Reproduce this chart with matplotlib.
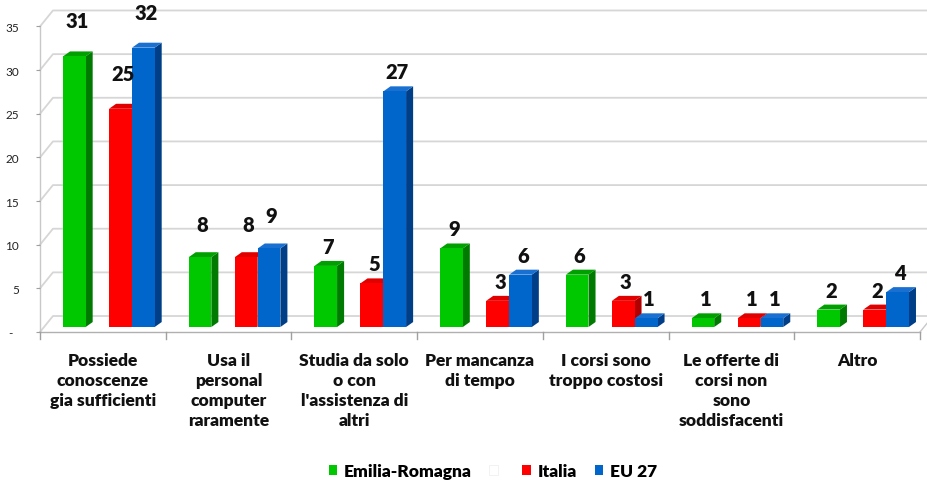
import matplotlib.pyplot as plt
from matplotlib.patches import Polygon, Rectangle
import numpy as np

categories = ["Possiede\nconoscenze\ngia sufficienti",
              "Usa il\npersonal\ncomputer\nraramente",
              "Studia da solo\no con\nl'assistenza di\naltri",
              "Per mancanza\ndi tempo",
              "I corsi sono\ntroppo costosi",
              "Le offerte di\ncorsi non\nsono\nsoddisfacenti",
              "Altro"]
series_names = ["Emilia-Romagna", "", "Italia", "EU 27"]
emilia = [31, 8, 7, 9, 6, 1, 2]
italia = [25, 8, 5, 3, 3, 1, 2]
eu27 = [32, 9, 27, 6, 1, 1, 4]
yticks = [0, 5, 10, 15, 20, 25, 30, 35]
ytick_labels = ["-  ", "5", "10", "15", "20", "25", "30", "35"]

plt.rcParams['font.family'] = ['Lato', 'DejaVu Sans']
BOLD = 'heavy'

fig = plt.figure(figsize=(9.28, 4.81), dpi=100)
ax = fig.add_axes([40/928, 1-333/481, 880/928, 35*8.73/481])
ax.set_xlim(0, 7)
ax.set_ylim(0, 35)

# fake 3d offsets (x in category units, y in value units)
DXW, DYW = 0.103, 1.83     # back wall
DXB, DYB = 0.056, 0.57     # bar depth
FLOOR = 0.57               # bar base above front edge
W = 0.18
grid_c = '#d6d6d6'
xend = 888/125.7

# back wall gridlines and left wall diagonals
for v in yticks:
    ax.plot([0, DXW, xend], [v, v+DYW, v+DYW], color=grid_c, lw=1.3,
            clip_on=False, zorder=1)
ax.plot([0, 0], [0, 35], color='#c8c8c8', lw=1.0, clip_on=False, zorder=1)
ax.plot([0, 7], [0, 0], color='#b0b0b0', lw=1.0, clip_on=False, zorder=1)
ax.plot([7, 7+DXW], [0, DYW], color='#c8c8c8', lw=1.0, clip_on=False, zorder=1)
for i in range(8):
    ax.plot([i, i], [0, -0.8], color='#a0a0a0', lw=1.0, clip_on=False)

# bars: side face, top face, then front face, left to right
colors = [('#00c800', '#00a000', '#007a00'),
          None,
          ('#ff0000', '#e00000', '#b00000'),
          ('#0066cc', '#1a70d0', '#003f87')]
data = [emilia, None, italia, eu27]
pads = [26, 23, 10, 10, 10, 10, 10]
for i in range(len(categories)):
    for k in range(4):
        if data[k] is None:
            continue
        v = data[k][i]
        x0 = i + 0.183 + k*0.183
        b = FLOOR
        t = FLOOR + v
        front, top, side = colors[k]
        ax.add_patch(Polygon([(x0+W, b), (x0+W+DXB, b+DYB), (x0+W+DXB, t+DYB), (x0+W, t)],
                             closed=True, fc=side, ec='none', zorder=3))
        ax.add_patch(Polygon([(x0, t), (x0+W, t), (x0+W+DXB, t+DYB), (x0+DXB, t+DYB)],
                             closed=True, fc=top, ec='none', zorder=3))
        ax.bar(x0, v, width=W, bottom=b, align='edge', color=front, zorder=3)
        ax.annotate(str(v), (x0 + W/2 + 0.02, t), xytext=(0, pads[i]),
                    textcoords='offset pixels', ha='center', va='bottom',
                    fontsize=14.5, fontweight=BOLD, color='#111111', zorder=5)

ax.set_yticks(yticks)
ax.set_yticklabels(ytick_labels, fontsize=8.5, color='#222222')
ax.tick_params(axis='y', length=3, pad=12, color='#a0a0a0')
ax.set_xticks([])
for s in ax.spines.values():
    s.set_visible(False)

for i, lab in enumerate(categories):
    ax.text(i + 0.5, -0.065, lab, transform=ax.get_xaxis_transform(), ha='center',
            va='top', fontsize=12.5, fontweight=BOLD, linespacing=1.3,
            color='#111111')

handles = [Rectangle((0, 0), 1, 1, fc='#00c800'),
           Rectangle((0, 0), 1, 1, fc='white', ec='#f0f0f0', lw=0.6),
           Rectangle((0, 0), 1, 1, fc='#ff0000'),
           Rectangle((0, 0), 1, 1, fc='#0066cc')]
leg = fig.legend(handles, series_names, loc='center', bbox_to_anchor=(493/928, 1-472/481),
                 ncol=4, frameon=False, handlelength=0.5, handleheight=0.5,
                 handletextpad=0.4, columnspacing=1.0,
                 prop={'weight': BOLD, 'size': 12.5})

fig.savefig('out.png', dpi=100)
